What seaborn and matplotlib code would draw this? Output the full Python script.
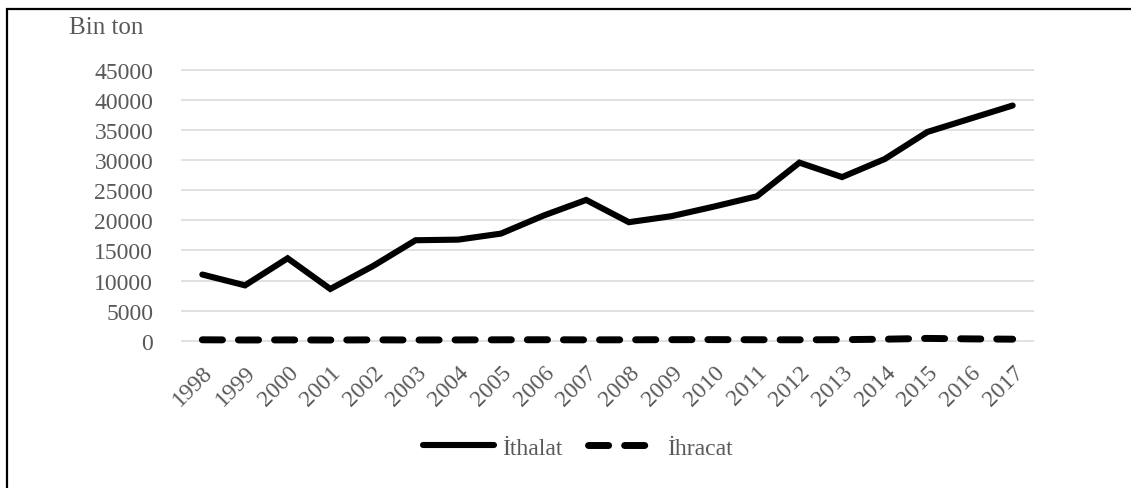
import matplotlib
matplotlib.use("Agg")
import matplotlib.pyplot as plt
import seaborn as sns
import pandas as pd
from matplotlib.lines import Line2D
from matplotlib.patches import Rectangle

years = list(range(1998, 2018))
ithalat = [11000, 9200, 13700, 8600, 12400, 16700, 16800, 17800, 20800, 23400,
           19700, 20700, 22300, 24000, 29600, 27200, 30200, 34700, 36900, 39100]
ihracat = [150, 120, 130, 110, 140, 120, 130, 150, 160, 140,
           150, 170, 180, 160, 150, 170, 250, 380, 300, 250]
y_ticks = [0, 5000, 10000, 15000, 20000, 25000, 30000, 35000, 40000, 45000]
series_names = ["İthalat", "İhracat"]

sns.set_theme(style="white")
plt.rcParams["font.family"] = ["Liberation Serif", "DejaVu Serif"]

text_color = "#595959"
grid_color = "#d9d9d9"
solid_lw = 4.4
dash_lw = 5.0
dash_pattern = (2.9, 2.3)

df = pd.DataFrame({
    "Yıl": years * 2,
    "Değer": ithalat + ihracat,
    "Seri": [series_names[0]] * len(years) + [series_names[1]] * len(years),
})

fig = plt.figure(figsize=(11.31, 4.89), dpi=100)
ax = fig.add_axes([181 / 1131, (489 - 344.1) / 489, (1034 - 181) / 1131, (344.1 - 68.6) / 489])

sns.lineplot(data=df[df["Seri"] == series_names[0]], x="Yıl", y="Değer", ax=ax,
             color="black", linewidth=solid_lw, legend=False)
sns.lineplot(data=df[df["Seri"] == series_names[1]], x="Yıl", y="Değer", ax=ax,
             color="black", linewidth=dash_lw, legend=False)
lines = ax.get_lines()
lines[0].set_solid_capstyle("round")
lines[0].set_solid_joinstyle("miter")
lines[1].set_dashes(dash_pattern)
lines[1].set_dash_capstyle("round")
for ln in lines:
    ln.set_clip_on(False)

ax.set_xlim(1997.5, 2017.5)
ax.set_ylim(-400, 45400)
ax.set_yticks(y_ticks)
ax.set_yticklabels([str(v) for v in y_ticks])
ax.set_xticks(years)
ax.set_xticklabels([str(y) for y in years], rotation=45, ha="right",
                   rotation_mode="anchor")
ax.set_xlabel("")
ax.set_ylabel("")
for sp in ax.spines.values():
    sp.set_visible(False)
ax.yaxis.grid(True, color=grid_color, linewidth=1.1)
ax.xaxis.grid(False)
ax.set_axisbelow(True)
ax.tick_params(axis="both", length=0, labelsize=17, colors=text_color)
ax.tick_params(axis="y", pad=20)
ax.tick_params(axis="x", pad=13)

fig.text(69 / 1131, 1 - 28 / 489, "Bin ton", fontsize=18, color=text_color,
         va="center", ha="left")

handles = [
    Line2D([], [], color="black", linewidth=solid_lw, solid_capstyle="round"),
    Line2D([], [], color="black", linewidth=dash_lw, dashes=dash_pattern,
           dash_capstyle="round"),
]
leg = fig.legend(handles, series_names, loc="center", bbox_to_anchor=(0.511, 1 - 449 / 489),
                 frameon=False, ncol=2, fontsize=17, handlelength=3.0,
                 handletextpad=0.35, columnspacing=1.1)
for t in leg.get_texts():
    t.set_color(text_color)

fig.patches.append(Rectangle((7 / 1131, -0.05), 1.2, 1 - 10 / 489 + 0.05,
                             transform=fig.transFigure, fill=False,
                             edgecolor="black", linewidth=1.6, zorder=10))

fig.savefig("out.png", dpi=100)
